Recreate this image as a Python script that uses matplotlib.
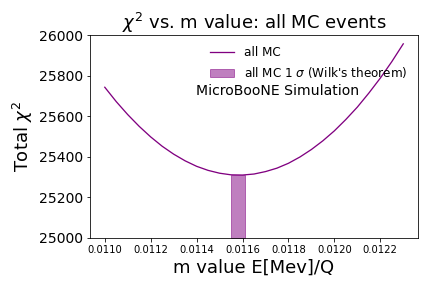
import matplotlib
matplotlib.use("Agg")
import matplotlib.pyplot as plt

m_values = [0.01100, 0.01105, 0.01110, 0.01115, 0.01120, 0.01125, 0.01130,
            0.01135, 0.01140, 0.01145, 0.01150, 0.01155, 0.01160, 0.01165,
            0.01170, 0.01175, 0.01180, 0.01185, 0.01190, 0.01195, 0.01200,
            0.01205, 0.01210, 0.01215, 0.01220, 0.01225, 0.01230]
chi2_values = [25743, 25672, 25608, 25550, 25498, 25452, 25413,
               25380, 25353, 25333, 25319, 25311, 25310, 25315,
               25327, 25344, 25368, 25399, 25436, 25479, 25528,
               25584, 25645, 25714, 25788, 25869, 25957]
band_x = [0.01155, 0.01161]
band_top = [25310, 25310]
band_bottom = 25000

fig = plt.figure(figsize=(6, 4), dpi=72)
ax = fig.add_axes([0.208, 0.174, 0.760, 0.704])
ax.plot(m_values, chi2_values, color='purple', lw=1.3, label='all MC')
ax.fill_between(band_x, band_bottom, band_top, color='purple', alpha=0.5,
                label=r"all MC 1 $\sigma$ (Wilk's theorem)")
ax.set_ylim(25000, 26000)
ax.set_title(r"$\chi^2$ vs. m value: all MC events", fontsize=18)
ax.set_ylabel(r"Total $\chi^2$", fontsize=18)
ax.set_xlabel("m value E[Mev]/Q", fontsize=18)
ax.tick_params(axis='y', labelsize=14)
ax.tick_params(axis='x', labelsize=10)
ax.legend(loc='upper right', frameon=False, fontsize=12)
ax.text(0.573, 0.724, "MicroBooNE Simulation", transform=ax.transAxes,
        ha='center', va='center', fontsize=14)
fig.savefig("out.png", dpi=72)
